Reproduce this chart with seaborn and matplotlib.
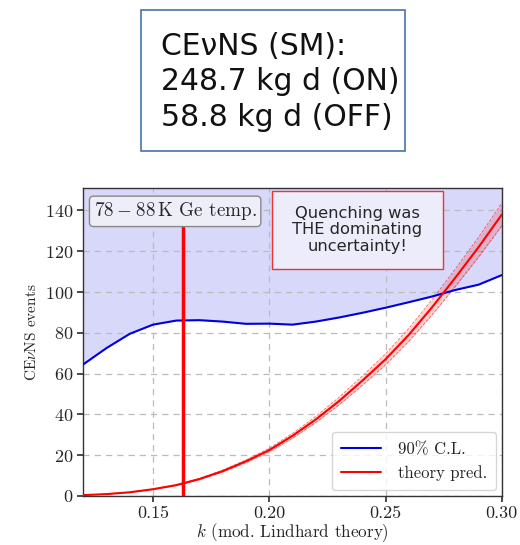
import numpy as np
import pandas as pd
import matplotlib
matplotlib.use("Agg")
import matplotlib.pyplot as plt
import seaborn as sns
from matplotlib.patches import Rectangle

# ---- data ----
k_cl = [0.12, 0.13, 0.14, 0.15, 0.16, 0.17, 0.18, 0.19, 0.20, 0.21, 0.22,
        0.23, 0.24, 0.25, 0.26, 0.27, 0.28, 0.29, 0.30]
cl90 = [64.5, 72.5, 79.5, 84.0, 86.0, 86.2, 85.5, 84.4, 84.5, 84.0, 85.5,
        87.5, 89.8, 92.3, 95.0, 97.8, 101.0, 103.6, 108.3]

k_th = [0.12, 0.13, 0.14, 0.15, 0.16, 0.17, 0.18, 0.19, 0.20, 0.21, 0.22,
        0.23, 0.24, 0.25, 0.26, 0.27, 0.28, 0.29, 0.30]
theory = [0.4, 0.9, 1.8, 3.3, 5.3, 8.3, 12.2, 17.0, 22.5, 29.5, 37.5,
          46.5, 56.5, 67.0, 79.0, 92.5, 107.0, 122.0, 138.0]
theory_rel_unc = 0.04

k_temp = 0.163
temp_top = 135
ymax = 151

title_lines = ["CE\u03bdNS (SM):", "248.7 kg d (ON)", "58.8 kg d (OFF)"]

# ---- style ----
sns.set_theme(style="ticks")
plt.rcParams["font.family"] = "serif"
plt.rcParams["font.serif"] = ["cmr10", "DejaVu Serif"]
plt.rcParams["mathtext.fontset"] = "cm"
plt.rcParams["axes.formatter.use_mathtext"] = True
plt.rcParams["axes.unicode_minus"] = False

fig = plt.figure(figsize=(5.2, 5.45), dpi=100)
ax = fig.add_axes([0.160, 0.090, 0.805, 0.565])

df_cl = pd.DataFrame({"k": k_cl, "events": cl90})
df_th = pd.DataFrame({"k": k_th, "events": theory})

# excluded region
ax.fill_between(df_cl["k"], df_cl["events"], ymax, color="#d8d8fa", zorder=0, lw=0)

# theory band
th = np.array(theory)
lo = th * (1 - theory_rel_unc)
hi = th * (1 + theory_rel_unc)
ax.fill_between(k_th, lo, hi, color="red", alpha=0.18, lw=0, zorder=2)
ax.plot(k_th, lo, color="red", lw=0.6, ls="--", alpha=0.6, zorder=2)
ax.plot(k_th, hi, color="red", lw=0.6, ls="--", alpha=0.6, zorder=2)

sns.lineplot(data=df_cl, x="k", y="events", ax=ax, color="#0000dd", lw=1.5,
             label="90% C.L.", zorder=3)
sns.lineplot(data=df_th, x="k", y="events", ax=ax, color="red", lw=1.5,
             label="theory pred.", zorder=3)

ax.vlines(k_temp, 0, temp_top, color="red", lw=2.5, zorder=4)

ax.set_xlim(0.12, 0.30)
ax.set_ylim(0, ymax)
ax.set_xticks([0.15, 0.20, 0.25, 0.30])
ax.set_xticklabels(["0.15", "0.20", "0.25", "0.30"])
ax.set_yticks(range(0, 141, 20))
ax.tick_params(labelsize=13, direction="out", length=4, color="#333333", pad=3)
ax.grid(True, ls=(0, (5, 4)), color="#bbbbbb", lw=0.9)
for gl in ax.get_xgridlines() + ax.get_ygridlines():
    gl.set_zorder(1)
for s in ax.spines.values():
    s.set_color("#333333")
    s.set_linewidth(1.0)
    s.set_visible(True)

ax.set_xlabel(r"$k$ (mod. Lindhard theory)", fontsize=12.3, labelpad=0)
ax.set_ylabel(r"CE$\nu$NS events", fontsize=11, labelpad=6)
ax.yaxis.set_label_coords(-0.105, 0.532)

leg = ax.legend(loc="lower right", fontsize=12, frameon=True, fancybox=True,
                framealpha=0.8, edgecolor="#cccccc", handlelength=2.4,
                borderpad=0.55, handletextpad=1.0, borderaxespad=0.35)

ax.text(0.025, 0.96, r"$78\:-\:88\,$K Ge temp.", transform=ax.transAxes,
        fontsize=13.8, ha="left", va="top",
        bbox=dict(boxstyle="round,pad=0.22", fc="#eeeef9", ec="#888888", lw=1.0),
        zorder=6)

# quenching box
ax.add_patch(Rectangle((0.451, 0.737), 0.408, 0.253, transform=ax.transAxes,
                       fc="#ececfa", ec="#ee3333", lw=1.0, zorder=6))
ax.text(0.655, 0.864, "Quenching was\nTHE dominating\nuncertainty!",
        transform=ax.transAxes, fontsize=11.7, ha="center", va="center",
        family="DejaVu Sans", linespacing=1.1, zorder=7)

# title box
fig.patches.append(Rectangle((141 / 520, 1 - 151 / 545), (405 - 141) / 520,
                             (151 - 10) / 545, transform=fig.transFigure,
                             fc="white", ec="#4a72a8", lw=1.2))
fig.text(161 / 520, 1 - 82 / 545, "\n".join(title_lines), fontsize=21.5,
         family="DejaVu Sans", ha="left", va="center", linespacing=1.3,
         color="#111111")

fig.savefig("out.png", dpi=100)
